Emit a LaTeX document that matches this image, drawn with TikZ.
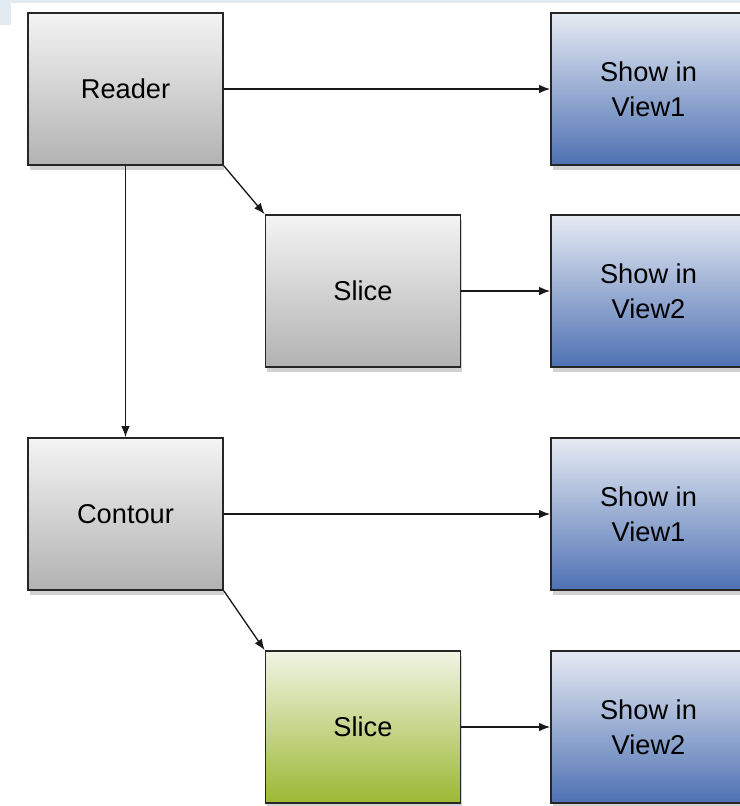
\documentclass[tikz,border=0pt]{standalone}
\usepackage{fontspec}
\setmainfont{Liberation Sans}
\usepackage{tikz}
\usetikzlibrary{arrows.meta, shadows}

\definecolor{bandblue}{HTML}{E2EAF2}
\definecolor{greytop}{HTML}{F4F4F4}
\definecolor{greybot}{HTML}{B2B2B2}
\definecolor{bluetop}{HTML}{E6EBF3}
\definecolor{bluebot}{HTML}{4E71B3}
\definecolor{greentop}{HTML}{F1F4E4}
\definecolor{greenbot}{HTML}{9CB834}

\begin{document}
\begin{tikzpicture}[x=0.02cm, y=-0.02cm,
    block/.style={draw=black!85, line width=1pt, minimum width=3.9cm, minimum height=3.04cm,
        inner sep=0pt, align=center, font=\fontsize{15.5}{20}\selectfont,
        drop shadow={opacity=0.35, shadow xshift=0.03cm, shadow yshift=-0.1cm}},
    filter/.style={block, top color=greytop, bottom color=greybot},
    view/.style={block, top color=bluetop, bottom color=bluebot},
    picked/.style={block, top color=greentop, bottom color=greenbot},
    link/.style={-{Latex[length=2.2mm, width=1.7mm]}, line width=0.75pt, black!90}]
    \clip (0,0) rectangle (740,806);
    \fill[white] (0,0) rectangle (740,806);
    % window edge
    \fill[bandblue] (0,0) rectangle (740,3);
    \fill[bandblue] (0,0) rectangle (11,25);

    % pipeline
    \node[filter] (reader) at (125.5,89) {Reader};
    \node[filter] (slice) at (363,291) {Slice};
    \node[filter] (contour) at (125.5,514) {Contour};
    \node[picked] (cslice) at (363,727) {Slice};

    \node[view] (viewA) at (648.5,89) {Show in\\View1};
    \node[view] (viewB) at (648.5,291) {Show in\\View2};
    \node[view] (viewC) at (648.5,514) {Show in\\View1};
    \node[view] (viewD) at (648.5,727) {Show in\\View2};

    \draw[link] (reader) -- (viewA);
    \draw[link] (reader.south east) -- (slice.north west);
    \draw[link] (slice) -- (viewB);
    \draw[link] (reader) -- (contour);
    \draw[link] (contour) -- (viewC);
    \draw[link] (contour.south east) -- (cslice.north west);
    \draw[link] (cslice) -- (viewD);
\end{tikzpicture}
\end{document}
